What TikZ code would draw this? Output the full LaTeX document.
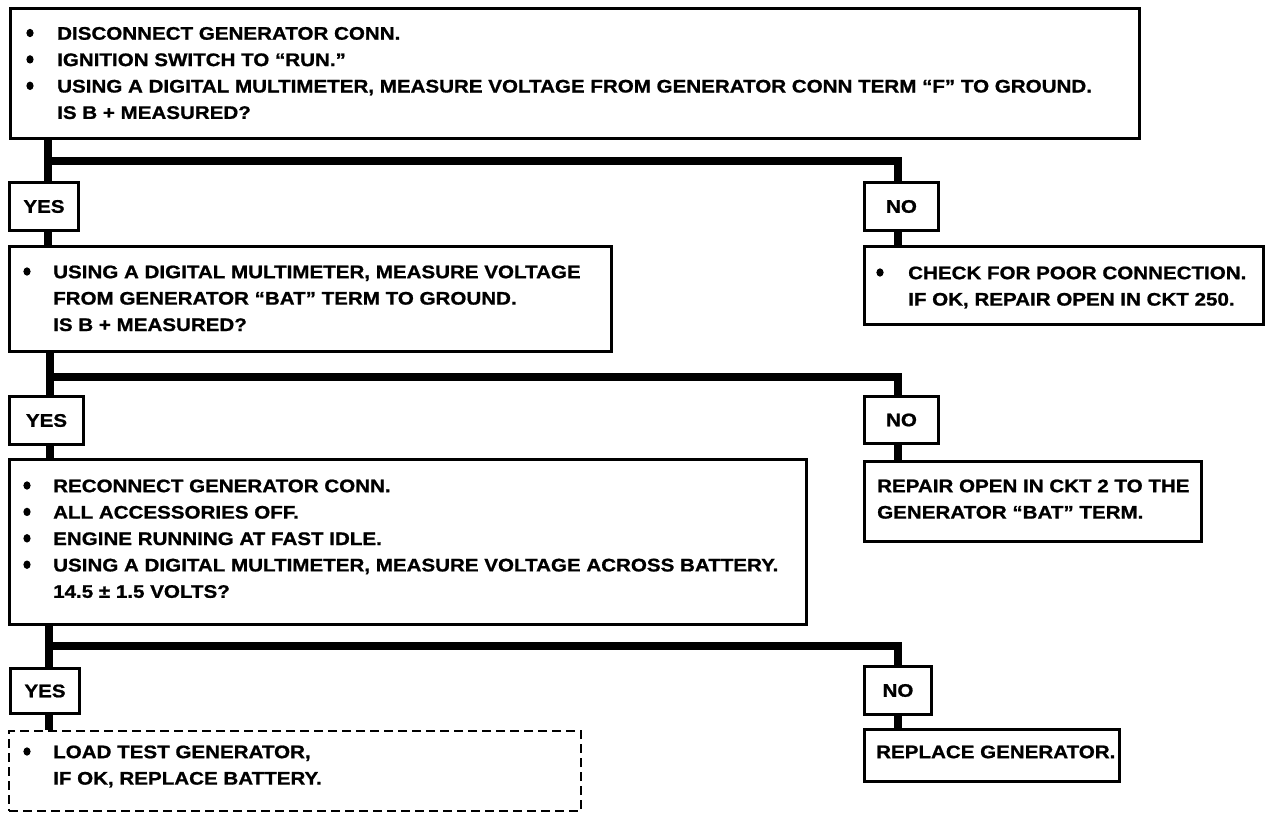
\documentclass[tikz,border=0pt]{standalone}
\usepackage{fontspec}
\setmainfont{Liberation Sans}[FakeStretch=1.13, BoldFeatures={FakeBold=1}]
\newcommand\sx{\rule{0pt}{15pt}}
\begin{document}
\begin{tikzpicture}[x=1pt,y=-1pt,
  fnt/.style={font=\fontsize{18.2}{26.4}\selectfont\bfseries},
  box/.style={draw, line width=3pt, inner sep=0pt, anchor=north west, fnt},
  dbox/.style={draw, line width=2.2pt, dash pattern=on 9pt off 5pt, inner sep=0pt, anchor=north west},
  lbl/.style={draw, line width=3pt, inner sep=0pt, anchor=north west, fnt},
  txt/.style={anchor=north west, inner sep=0pt, align=left, fnt},
  conn/.style={line width=8pt},
  bul/.style={fill=black}]
\useasboundingbox (0,0) rectangle (1280,816);

% ---------- row 1 ----------
\node[box, minimum width=1129pt, minimum height=130pt] (b1) at (9,7) {};
\node[txt] (t1) at (57,24.5) {\sx DISCONNECT GENERATOR CONN.\\
IGNITION SWITCH TO “RUN.”\\
USING A DIGITAL MULTIMETER, MEASURE VOLTAGE FROM GENERATOR CONN TERM “F” TO GROUND.\\
IS B + MEASURED?};
\foreach \yy in {33,59.4,85.8} \fill[bul] (30,\yy) ellipse (3.6pt and 4.2pt);

\node[lbl, minimum width=69pt, minimum height=48pt] (y1) at (8,181) {YES};
\node[lbl, minimum width=74pt, minimum height=48pt] (n1) at (863,181) {NO};

% ---------- row 2 ----------
\node[box, minimum width=602pt, minimum height=105pt] (b2) at (8,245) {};
\node[txt] (t2) at (53,263) {\sx USING A DIGITAL MULTIMETER, MEASURE VOLTAGE\\
FROM GENERATOR “BAT” TERM TO GROUND.\\
IS B + MEASURED?};
\fill[bul] (27,271.5) ellipse (3.6pt and 4.2pt);

\node[box, minimum width=399pt, minimum height=78pt] (c1) at (863,245) {};
\node[txt] (t2n) at (908,264) {\sx CHECK FOR POOR CONNECTION.\\
IF OK, REPAIR OPEN IN CKT 250.};
\fill[bul] (880,272.5) ellipse (3.6pt and 4.2pt);

\node[lbl, minimum width=74pt, minimum height=48pt] (y2) at (8,395) {YES};
\node[lbl, minimum width=74pt, minimum height=47pt] (n2) at (863,395) {NO};

% ---------- row 3 ----------
\node[box, minimum width=797pt, minimum height=165pt] (b3) at (8,458) {};
\node[txt] (t3) at (53,477) {\sx RECONNECT GENERATOR CONN.\\
ALL ACCESSORIES OFF.\\
ENGINE RUNNING AT FAST IDLE.\\
USING A DIGITAL MULTIMETER, MEASURE VOLTAGE ACROSS BATTERY.\\
14.5 ± 1.5 VOLTS?};
\foreach \yy in {485.5,511.9,538.3,564.7} \fill[bul] (27,\yy) ellipse (3.6pt and 4.2pt);

\node[box, minimum width=337pt, minimum height=80pt] (r2) at (863,460) {};
\node[txt] (t3n) at (877,477) {\sx REPAIR OPEN IN CKT 2 TO THE\\
GENERATOR “BAT” TERM.};

\node[lbl, minimum width=69pt, minimum height=45pt] (y3) at (9,667) {YES};
\node[lbl, minimum width=67pt, minimum height=48pt] (n3) at (863,665) {NO};

% ---------- row 4 ----------
\node[dbox, minimum width=572pt, minimum height=80pt] (d4) at (8,730) {};
\node[txt] (t4) at (53,743) {\sx LOAD TEST GENERATOR,\\
IF OK, REPLACE BATTERY.};
\fill[bul] (27,751.5) ellipse (3.6pt and 4.2pt);

\node[box, minimum width=255pt, minimum height=52pt] (g4) at (863,728) {};
\node[txt] (t4n) at (876,743) {\sx REPLACE GENERATOR.};

% ---------- connectors ----------
\coordinate (k1) at ([xshift=3.5pt]y1.north);
\coordinate (k2) at ([xshift=3.5pt]y2.north);
\coordinate (k3) at ([xshift=3.5pt]y3.north);
\coordinate (m1) at ([xshift=-4pt]n1.north);
\coordinate (m2) at ([xshift=-4pt]n2.north);
\coordinate (m3) at ([xshift=-0.5pt]n3.north);
\coordinate (h1) at ([yshift=-21pt]b1.south);
\coordinate (h2) at ([yshift=-24pt]b2.south);
\coordinate (h3) at ([yshift=-20pt]b3.south);

\draw[conn] (k1 |- b1.south) -- (k1);
\draw[conn] (k1 |- h1) -| (m1);
\draw[conn] (k1 |- y1.south) -- (k1 |- b2.north);
\draw[conn] (m1 |- n1.south) -- (m1 |- c1.north);

\draw[conn] (k2 |- b2.south) -- (k2);
\draw[conn] (k2 |- h2) -| (m2);
\draw[conn] (k2 |- y2.south) -- (k2 |- b3.north);
\draw[conn] (m2 |- n2.south) -- (m2 |- r2.north);

\draw[conn] (k3 |- b3.south) -- (k3);
\draw[conn] (k3 |- h3) -| (m3);
\draw[conn] (k3 |- y3.south) -- (k3 |- d4.north);
\draw[conn] (m3 |- n3.south) -- (m3 |- g4.north);
\end{tikzpicture}
\end{document}
